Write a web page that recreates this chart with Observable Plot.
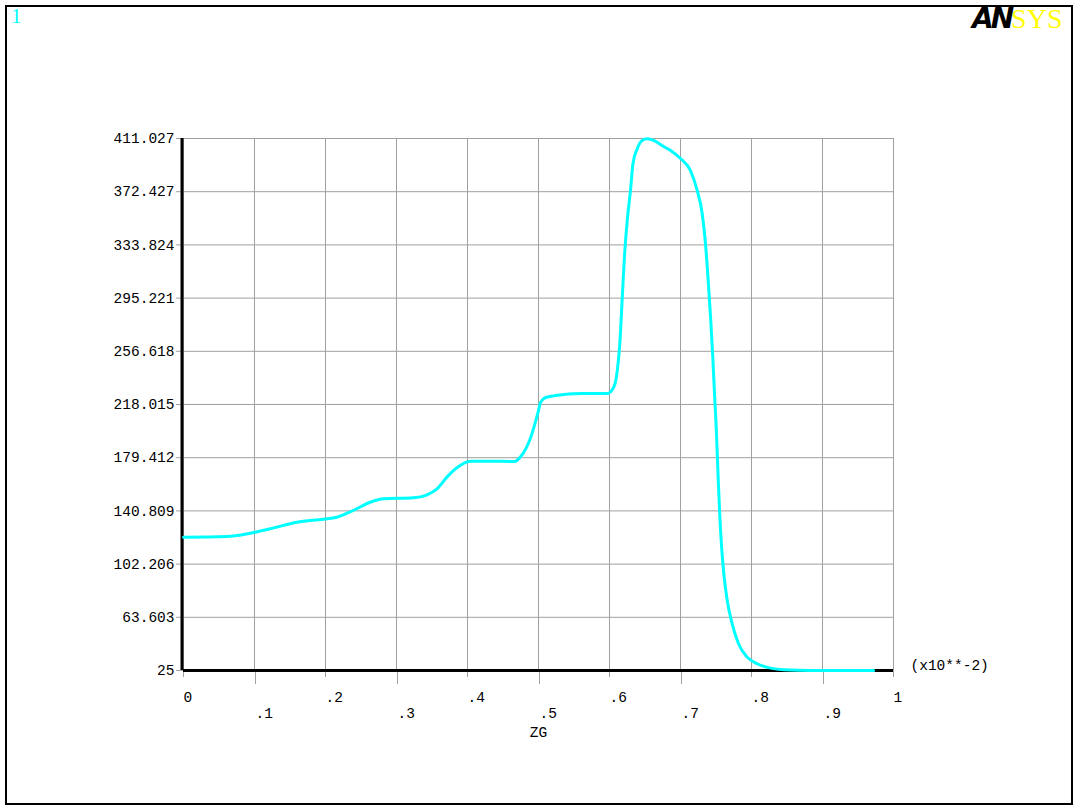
<!DOCTYPE html>
<html>
<head>
<meta charset="utf-8">
<script src="https://cdn.jsdelivr.net/npm/d3@7"></script>
<script src="https://cdn.jsdelivr.net/npm/@observablehq/plot@0.6"></script>
<style>
  html, body { margin: 0; padding: 0; background: white; }
  #wrap { position: relative; width: 1077px; height: 810px; overflow: hidden; }
  #frame { position: absolute; left: 5px; top: 5px; width: 1064px; height: 796px; border: 2px solid black; pointer-events: none; }
  #num { position: absolute; left: 11px; top: 6px; font-family: 'Liberation Serif', serif; font-size: 21px; color: #00ffff; line-height: 1; }
  #logo { position: absolute; left: 972px; top: 4px; font-size: 28px; white-space: nowrap; line-height: 1.1; }
  #logo .an { font-family: 'DejaVu Sans', sans-serif; font-weight: bold; color: black; letter-spacing: -3px; font-style: italic; }
  #logo .sys { font-family: 'Liberation Serif', serif; color: #ffff00; }
</style>
</head>
<body>
<div id="wrap">
  <div id="chart"></div>
  <div id="num">1</div>
  <div id="logo"><span class="an">AN</span><span class="sys">SYS</span></div>
  <div id="frame"></div>
</div>
<script>
const xTicks = [0, 0.1, 0.2, 0.3, 0.4, 0.5, 0.6, 0.7, 0.8, 0.9, 1];
const xTickLabels = ["0", ".1", ".2", ".3", ".4", ".5", ".6", ".7", ".8", ".9", "1"];
const yTicks = [25, 63.603, 102.206, 140.809, 179.412, 218.015, 256.618, 295.221, 333.824, 372.427, 411.027];
const yTickLabels = ["25", "63.603", "102.206", "140.809", "179.412", "218.015", "256.618", "295.221", "333.824", "372.427", "411.027"];
const xLabel = "ZG";
const xScaleNote = "(x10**-2)";

const zg = [0, 0.061, 0.094, 0.122, 0.160, 0.197, 0.216, 0.239, 0.263, 0.282,
  0.324, 0.343, 0.357, 0.371, 0.385, 0.404, 0.428, 0.466, 0.475, 0.489,
  0.499, 0.503, 0.510, 0.524, 0.560, 0.597, 0.606, 0.611, 0.6145, 0.618,
  0.621, 0.625, 0.630, 0.633, 0.639, 0.646, 0.653, 0.667, 0.674, 0.686,
  0.700, 0.714, 0.7235, 0.7306, 0.7352, 0.739, 0.7423, 0.7455, 0.7479, 0.7503,
  0.7532, 0.7552, 0.7579, 0.761, 0.7658, 0.7728, 0.7817, 0.7939, 0.808, 0.827,
  0.8455, 0.883, 0.972];
const val = [121.7, 122.2, 124.6, 127.8, 132.6, 134.8, 136.2, 141.1, 147.1, 149.6,
  150.3, 152.5, 156.8, 165.3, 172.1, 176.9, 176.9, 176.7, 180.3, 194.1,
  211.5, 219.5, 223.1, 224.5, 226.0, 226.0, 230.6, 242.7, 262.0, 295.9,
  324.9, 351.5, 375.7, 392.7, 403.5, 409.6, 410.8, 408.3, 405.9, 402.3,
  396.5, 387.8, 373.3, 356.4, 334.6, 308.0, 281.4, 252.3, 225.8, 201.5,
  162.9, 138.7, 114.5, 95.2, 75.8, 58.9, 44.4, 34.7, 29.9, 26.7,
  25.5, 25.0, 25.0];

const data = zg.map((x, i) => ({x, y: val[i]}));
const evenTicks = xTicks.filter((d, i) => i % 2 === 0);
const oddTicks = xTicks.filter((d, i) => i % 2 === 1);
const xFmt = d => xTickLabels[xTicks.indexOf(d)];
const yFmt = d => yTickLabels[yTicks.indexOf(d)];
const grid = "#a0a0a0";

const chart = Plot.plot({
  width: 1077,
  height: 810,
  marginLeft: 183,
  marginRight: 184,
  marginTop: 138,
  marginBottom: 140,
  style: {fontFamily: "'Liberation Mono', monospace", fontSize: "14.5px", color: "black", background: "white"},
  x: {domain: [0, 1]},
  y: {domain: [25, 411.027]},
  marks: [
    Plot.gridX(xTicks, {stroke: grid, strokeOpacity: 1}),
    Plot.gridY(yTicks, {stroke: grid, strokeOpacity: 1}),
    Plot.axisY(yTicks, {tickSize: 7, tickPadding: 2, stroke: grid, fill: "black", tickFormat: yFmt, label: null}),
    Plot.axisX(evenTicks, {tickSize: 7, tickPadding: 14, stroke: grid, fill: "black", tickFormat: xFmt, textAnchor: "start", dx: 0, label: null}),
    Plot.axisX(oddTicks, {tickSize: 14, tickPadding: 23, stroke: grid, fill: "black", tickFormat: xFmt, textAnchor: "start", dx: 1, label: null}),
    Plot.ruleY([25], {stroke: "black", strokeWidth: 3}),
    Plot.ruleX([0], {stroke: "black", strokeWidth: 3, dx: -1.5}),
    Plot.line(data, {x: "x", y: "y", stroke: "#00ffff", strokeWidth: 3, curve: "monotone-x"}),
    Plot.text([xLabel], {frameAnchor: "bottom", dy: 62, text: d => d, fill: "black", lineAnchor: "middle"}),
    Plot.text([xScaleNote], {frameAnchor: "bottom-right", dx: 17, dy: -5, text: d => d, fill: "black", textAnchor: "start", lineAnchor: "middle"})
  ]
});
document.getElementById("chart").appendChild(chart);
</script>
</body>
</html>
